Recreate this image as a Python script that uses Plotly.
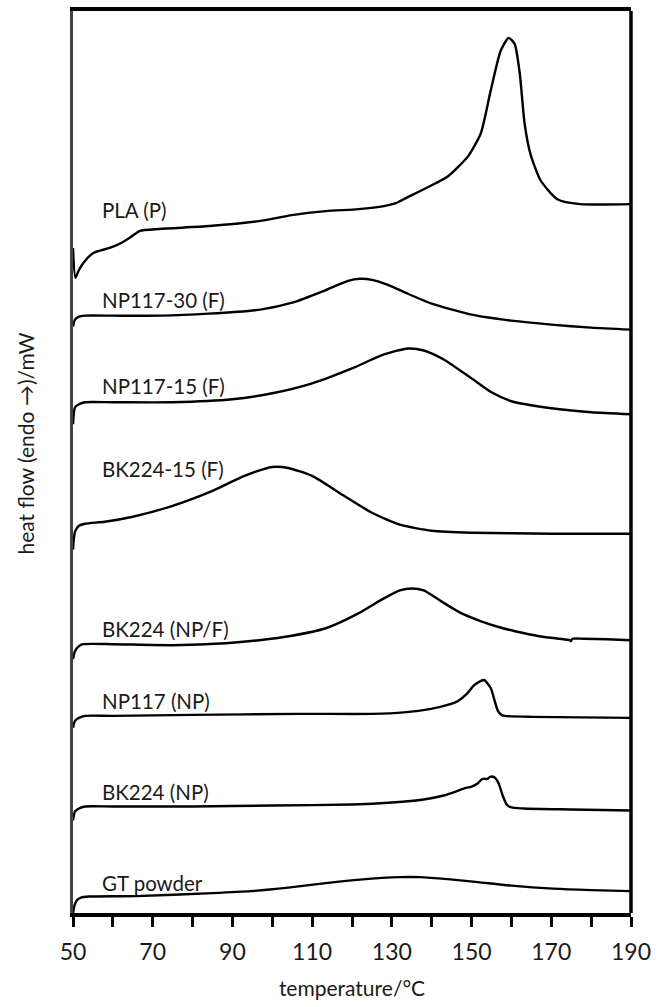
import plotly.graph_objects as go

# ---------------- data (temperature in °C, heat flow in arbitrary offset mW units) -------------
pla_T = [50, 50.6, 51.5, 52.6, 55.1, 59.2, 62.1, 64.5, 66.7, 71.7, 84.2, 96.7, 104.9, 113.4, 121.6,
         128, 131, 133.5, 137, 141, 144.1, 149.1, 152.3, 154.8, 157.3, 159.3, 160.8, 162.1, 163.3,
         164.8, 167.3, 171.5, 177.3, 190]
pla_HF = [6.68, 6.38, 6.46, 6.53, 6.63, 6.68, 6.73, 6.79, 6.85, 6.87, 6.90, 6.95, 7.01, 7.05, 7.07,
          7.10, 7.13, 7.18, 7.25, 7.33, 7.40, 7.60, 7.83, 8.26, 8.66, 8.79, 8.73, 8.43, 7.93,
          7.62, 7.36, 7.17, 7.12, 7.12]

np117_30_T = [50, 50.5, 51.5, 53, 60, 72, 84, 97, 105, 113, 119, 122, 125, 129, 134, 140, 150, 160, 170, 180, 190]
np117_30_HF = [5.89, 5.96, 5.99, 6.00, 6.00, 6.00, 6.02, 6.06, 6.13, 6.25, 6.35, 6.37, 6.36, 6.31, 6.22,
               6.12, 6.01, 5.95, 5.91, 5.88, 5.86]

np117_15_T = [50, 50.5, 51.5, 53, 60, 75, 90, 100, 110, 120, 128, 134, 138, 143, 150, 155, 160, 170, 180, 190]
np117_15_HF = [4.91, 5.08, 5.11, 5.13, 5.13, 5.13, 5.16, 5.22, 5.32, 5.47, 5.61, 5.67, 5.65, 5.56, 5.37,
               5.23, 5.14, 5.07, 5.03, 5.01]

bk224_15_T = [50, 50.5, 51.5, 53, 58, 65, 75, 85, 93, 100, 104, 110, 118, 125, 132, 140, 150, 170, 190]
bk224_15_HF = [3.65, 3.83, 3.89, 3.91, 3.93, 3.98, 4.09, 4.24, 4.39, 4.48, 4.47, 4.39, 4.19, 4.02, 3.90,
               3.84, 3.82, 3.81, 3.81]

bk224_npf_T = [50, 50.5, 51.5, 52.5, 60, 75, 88.4, 96.7, 104.9, 113.4, 121.6, 128, 132, 135, 138, 142.4,
               147, 152.4, 157, 160.9, 167, 172, 174.6, 174.9, 175.3, 178, 184, 190]
bk224_npf_HF = [2.55, 2.63, 2.68, 2.70, 2.70, 2.69, 2.71, 2.74, 2.785, 2.86, 3.01, 3.16, 3.24, 3.26, 3.24,
                3.13, 3.02, 2.93, 2.87, 2.83, 2.78, 2.755, 2.74, 2.73, 2.755, 2.755, 2.75, 2.74]

np117_np_T = [50, 50.5, 51.5, 53, 60, 80, 106.6, 125, 133, 139.8, 144, 146.6, 148.8, 150.7, 153.1,
              154.8, 155.8, 156.6, 157.5, 158.3, 165, 190]
np117_np_HF = [1.86, 1.93, 1.96, 1.98, 1.98, 1.99, 2.00, 2.00, 2.015, 2.05, 2.09, 2.13, 2.20, 2.29, 2.34,
               2.26, 2.13, 2.03, 1.99, 1.98, 1.97, 1.96]

bk224_np_T = [50, 50.5, 51.5, 53, 60, 80, 100, 120, 130, 138, 143, 146, 148, 150, 151.5, 152.5, 153.2,
              153.8, 154.8, 155.8, 156.8, 157.8, 158.8, 160, 163, 175, 190]
bk224_np_HF = [0.93, 1.02, 1.05, 1.07, 1.07, 1.07, 1.08, 1.09, 1.11, 1.14, 1.18, 1.22, 1.25, 1.27, 1.30,
               1.34, 1.35, 1.345, 1.37, 1.36, 1.30, 1.18, 1.09, 1.06, 1.05, 1.04, 1.03]

gt_T = [50, 50.4, 51, 52, 54, 65.7, 85, 94.6, 104, 113.4, 122, 132, 137, 144, 151.6, 160, 170.5, 180, 190]
gt_HF = [0.00, 0.08, 0.13, 0.155, 0.165, 0.17, 0.20, 0.22, 0.255, 0.30, 0.335, 0.36, 0.36, 0.34, 0.31,
         0.275, 0.245, 0.23, 0.22]

series_names = ["PLA (P)", "NP117-30 (F)", "NP117-15 (F)", "BK224-15 (F)",
                "BK224 (NP/F)", "NP117 (NP)", "BK224 (NP)", "GT powder"]
series_T = [pla_T, np117_30_T, np117_15_T, bk224_15_T, bk224_npf_T, np117_np_T, bk224_np_T, gt_T]
series_HF = [pla_HF, np117_30_HF, np117_15_HF, bk224_15_HF, bk224_npf_HF, np117_np_HF, bk224_np_HF, gt_HF]

x_ticks = [50, 60, 70, 80, 90, 100, 110, 120, 130, 140, 150, 160, 170, 180, 190]

# ---------------- figure -------------
FONT = "Lato, Open Sans, sans-serif"
TXT = "#1a1a1a"
fig = go.Figure()
for name, T, HF in zip(series_names, series_T, series_HF):
    fig.add_trace(go.Scatter(x=T, y=HF, mode="lines", name=name,
                             line=dict(color="black", width=2.4, shape="spline", smoothing=0.6),
                             showlegend=False, hoverinfo="skip"))

# label placement (layout, not data)
label_x = 56.7
label_y = [7.06, 6.16, 5.29, 4.46, 2.85, 2.13, 1.22, 0.30]
for name, ly in zip(series_names, label_y):
    fig.add_annotation(x=label_x, y=ly, xref="x", yref="y", text=name, showarrow=False,
                       xanchor="left", yanchor="middle",
                       font=dict(family=FONT, size=20.5, color=TXT))

fig.add_annotation(x=-0.085, y=0.52, xref="paper", yref="paper", text="heat flow (endo →)/mW",
                   textangle=-90, showarrow=False, xanchor="center", yanchor="middle",
                   font=dict(family=FONT, size=21, color=TXT))

# right frame line (black, heavier than the grey left axis line)
fig.add_shape(type="line", xref="paper", yref="paper", x0=1, x1=1, y0=0, y1=1,
              line=dict(color="black", width=3.5))

fig.update_layout(
    width=658, height=1007,
    margin=dict(l=73, r=24, t=7, b=94),
    paper_bgcolor="white", plot_bgcolor="white",
    font=dict(family=FONT, color=TXT),
    xaxis=dict(range=[50, 190], tickvals=x_ticks,
               ticktext=[str(v) if (v - 50) % 20 == 0 else "" for v in x_ticks],
               ticks="outside", ticklen=10, tickwidth=3, tickcolor="black",
               ticklabelstandoff=6,
               showline=True, linewidth=3.5, linecolor="black", mirror=True,
               showgrid=False, zeroline=False,
               tickfont=dict(family=FONT, size=23, color=TXT),
               title=dict(text="temperature/°C", standoff=18,
                          font=dict(family=FONT, size=21, color=TXT))),
    yaxis=dict(range=[0, 9.06], showticklabels=False, ticks="",
               showline=True, linewidth=2.5, linecolor="#444", mirror=False,
               showgrid=False, zeroline=False),
)

fig.write_html("out.html")
